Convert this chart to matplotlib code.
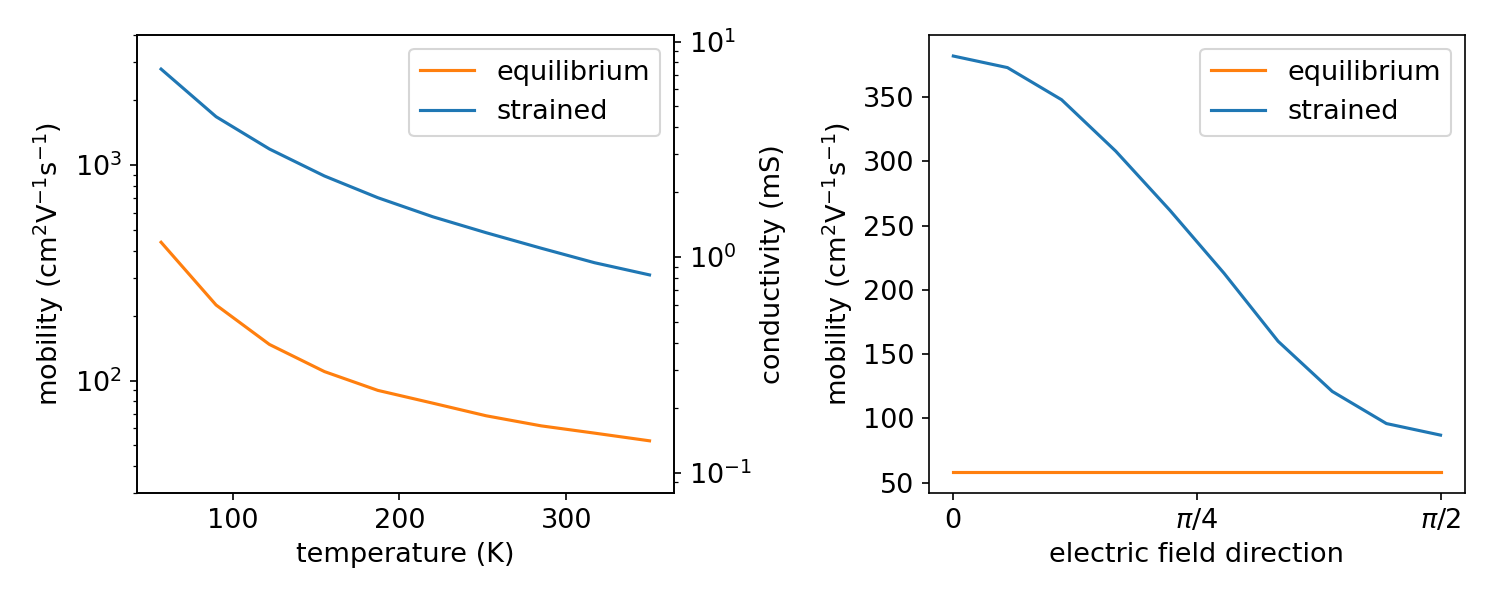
import numpy as np
import matplotlib
matplotlib.use("Agg")
import matplotlib.pyplot as plt

plt.rcParams['font.size'] = 13

# Left panel data
temperature = [57, 90, 122, 155, 187, 220, 252, 285, 317, 350]
mob_equilibrium_T = [438, 224, 147, 110, 90, 78.5, 68.6, 61.6, 57.0, 52.5]
mob_strained_T = [2786, 1675, 1186, 889, 705, 575, 485, 411, 352, 309]

# Right panel data (field direction in degrees)
angle_deg = [0, 10, 20, 30, 40, 50, 60, 70, 80, 90]
mob_equilibrium_A = [58, 58, 58, 58, 58, 58, 58, 58, 58, 58]
mob_strained_A = [382, 373, 348, 308, 262, 213, 160, 121, 96, 87]

xtick_labels = ['0', r'$\pi/4$', r'$\pi/2$']

c_eq = '#ff7f0e'
c_st = '#1f77b4'
ylabel = r'mobility (cm$^2$V$^{-1}$s$^{-1}$)'

fig = plt.figure(figsize=(10, 4), dpi=150)

ax1 = fig.add_axes([0.0911, 0.178, 0.3582, 0.7633])
ax1.plot(temperature, mob_equilibrium_T, color=c_eq, lw=1.5, label='equilibrium')
ax1.plot(temperature, mob_strained_T, color=c_st, lw=1.5, label='strained')
ax1.set_yscale('log')
ax1.set_ylim(30, 4000)
ax1.set_xlabel('temperature (K)')
ax1.set_ylabel(ylabel)
ax1.legend(loc='upper right')

ax1b = ax1.twinx()
factor = 374.0
ax1b.set_yscale('log')
ax1b.set_ylim(30 / factor, 4000 / factor)
ax1b.set_ylabel('conductivity (mS)')

ax2 = fig.add_axes([0.6193, 0.178, 0.3573, 0.7633])
angles = np.deg2rad(angle_deg)
ax2.plot(angles, mob_equilibrium_A, color=c_eq, lw=1.5, label='equilibrium')
ax2.plot(angles, mob_strained_A, color=c_st, lw=1.5, label='strained')
ax2.set_xticks([0, np.pi / 4, np.pi / 2])
ax2.set_xticklabels(xtick_labels)
ax2.set_xlabel('electric field direction')
ax2.set_ylabel(ylabel)
ax2.legend(loc='upper right')

fig.savefig('out.png', dpi=150)
